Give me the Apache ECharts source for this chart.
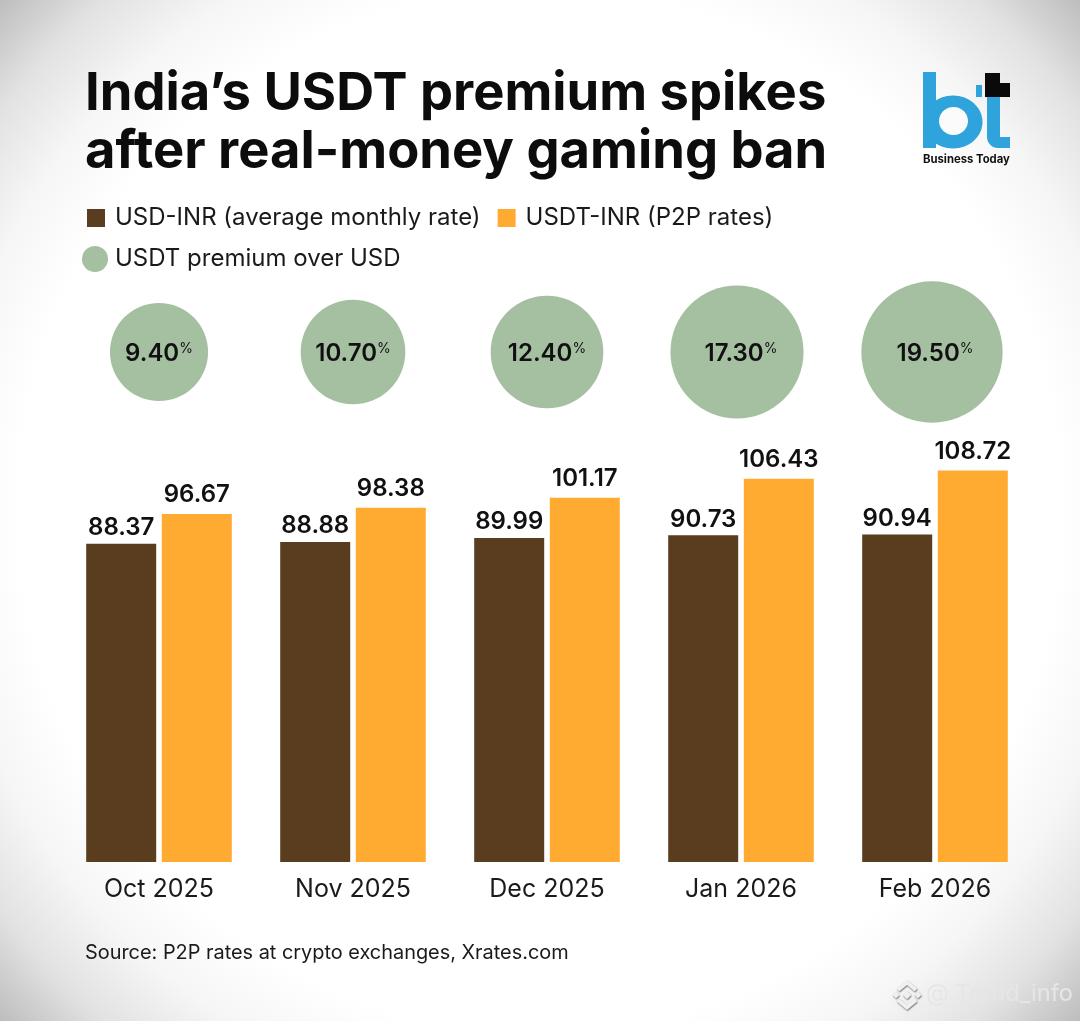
<!DOCTYPE html>
<html><head><meta charset="utf-8">
<style>html,body{margin:0;padding:0;background:#fff}#c{width:1080px;height:1021px}</style>
<script src="https://cdn.jsdelivr.net/npm/echarts@6/dist/echarts.min.js"></script>
</head><body><div id="c"></div>
<script>
const months = ['Oct 2025','Nov 2025','Dec 2025','Jan 2026','Feb 2026'];
const usdInr = [88.37,88.88,89.99,90.73,90.94];
const usdtInr = [96.67,98.38,101.17,106.43,108.72];
const premium = [9.40,10.70,12.40,17.30,19.50];
const seriesNames = ['USD-INR (average monthly rate)','USDT-INR (P2P rates)','USDT premium over USD'];
const bubbleNudge = [0,0,0,-4,-3];
const FONT = 'Inter';
const chart = echarts.init(document.getElementById('c'),null,{renderer:'canvas'});
const blue='#2fa3dc', ink='#111';
const wmShadow={shadowColor:'rgba(0,0,0,.55)',shadowBlur:1.5,shadowOffsetX:0.5,shadowOffsetY:1};
const barLabel=d=>({show:true,position:'top',distance:d,fontFamily:FONT,fontSize:24,fontWeight:600,color:ink,formatter:p=>p.value.toFixed(2)});
chart.setOption({
  animation:false,
  backgroundColor:new echarts.graphic.RadialGradient(0.5,0.5,0.73,[
    {offset:0,color:'#ffffff'},{offset:0.7,color:'#ffffff'},{offset:0.8,color:'#f6f6f6'},{offset:0.9,color:'#e2e2e2'},{offset:1,color:'#bcbcbc'}]),
  textStyle:{fontFamily:FONT,color:ink},
  title:[
    {text:'India’s USDT premium spikes\nafter real-money gaming ban',left:80,top:60,
     textStyle:{fontFamily:FONT,fontSize:52.5,fontWeight:700,lineHeight:58,color:'#0c0c0c'}},
    {text:'Source: P2P rates at crypto exchanges, Xrates.com',left:80,top:938,
     textStyle:{fontFamily:FONT,fontSize:19.9,fontWeight:400,color:'#1a1a1a'}}
  ],
  legend:[
    {data:seriesNames.slice(0,2),left:82,top:201,itemWidth:18,itemHeight:18,itemGap:17,
     textStyle:{fontFamily:FONT,fontSize:24,color:'#1a1a1a',padding:[0,0,0,5]},icon:'rect'},
    {data:seriesNames.slice(2),left:77,top:241,itemWidth:26,itemHeight:26,icon:'circle',
     textStyle:{fontFamily:FONT,fontSize:24,color:'#1a1a1a',padding:[0,0,0,2]}}
  ],
  grid:[
    {left:62,width:970,top:412,height:450},
    {left:62,width:970,top:282,height:140}
  ],
  xAxis:[
    {type:'category',gridIndex:0,data:months,axisLine:{show:false},axisTick:{show:false},
     axisLabel:{fontFamily:FONT,fontSize:25,color:'#1a1a1a',margin:15}},
    {type:'category',gridIndex:1,data:months,show:false}
  ],
  yAxis:[
    {type:'value',gridIndex:0,min:0,max:125,show:false,splitLine:{show:false}},
    {type:'value',gridIndex:1,min:0,max:40,show:false,splitLine:{show:false}}
  ],
  series:[
    {name:seriesNames[0],type:'bar',data:usdInr,barWidth:70,barGap:'8%',itemStyle:{color:'#593d1e'},label:barLabel(4)},
    {name:seriesNames[1],type:'bar',data:usdtInr,barWidth:70,itemStyle:{color:'#ffab32'},label:barLabel(7)},
    {name:seriesNames[2],type:'scatter',xAxisIndex:1,yAxisIndex:1,
     data:premium.map((v,i)=>({value:[months[i],20,v],symbolOffset:[bubbleNudge[i],0],label:{offset:[-bubbleNudge[i],2]}})),
     symbolSize:d=>32*Math.sqrt(d[2]),itemStyle:{color:'#a5bfa1',opacity:1},
     label:{show:true,position:'inside',formatter:p=>'{v|'+p.value[2].toFixed(2)+'}{p|%}',
       rich:{v:{fontFamily:FONT,fontSize:24,fontWeight:600,color:ink},p:{fontFamily:FONT,fontSize:14,color:ink,verticalAlign:'top',padding:[0,0,6,0]}}}}
  ],
  graphic:[
    {type:'group',silent:true,children:[
      {type:'ellipse',shape:{cx:953,cy:122,rx:29.5,ry:26.5},style:{fill:blue}},
      {type:'ellipse',shape:{cx:953.5,cy:121,rx:14.5,ry:14},style:{fill:'#fbfbfb'}},
      {type:'rect',shape:{x:923,y:72,width:13,height:76},style:{fill:blue}},
      {type:'rect',shape:{x:976,y:85,width:6,height:12},style:{fill:blue}},
      {type:'rect',shape:{x:987,y:97,width:13,height:40},style:{fill:blue}},
      {type:'rect',shape:{x:987,y:137,width:23,height:11,r:[0,0,0,11]},style:{fill:blue}},
      {type:'rect',shape:{x:985,y:73,width:15,height:24},style:{fill:'#0a0a0a'}},
      {type:'rect',shape:{x:1000,y:83,width:10,height:14},style:{fill:'#0a0a0a'}},
      {type:'text',x:923,y:154,style:{text:'Business Today',fill:'#111',font:'700 11.3px Inter'}}
    ]},
    {type:'group',silent:true,children:[
      {type:'polyline',shape:{points:[[898,990],[907,982.5],[916,990]]},style:{fill:'none',stroke:'#efefef',lineWidth:4,...wmShadow}},
      {type:'polyline',shape:{points:[[898,1000],[907,1007.5],[916,1000]]},style:{fill:'none',stroke:'#efefef',lineWidth:4,...wmShadow}},
      {type:'rect',x:907,y:995,rotation:Math.PI/4,shape:{x:-3,y:-3,width:6,height:6},style:{fill:'#efefef',...wmShadow}},
      {type:'rect',x:896,y:995,rotation:Math.PI/4,shape:{x:-2.5,y:-2.5,width:5,height:5},style:{fill:'#efefef',...wmShadow}},
      {type:'rect',x:918,y:995,rotation:Math.PI/4,shape:{x:-2.5,y:-2.5,width:5,height:5},style:{fill:'#efefef',...wmShadow}},
      {type:'text',x:926,y:982,style:{text:'@ Trend_info',fill:'#e6e6e6',font:'400 23.5px Inter',...wmShadow}}
    ]}
  ]
});
</script></body></html>
